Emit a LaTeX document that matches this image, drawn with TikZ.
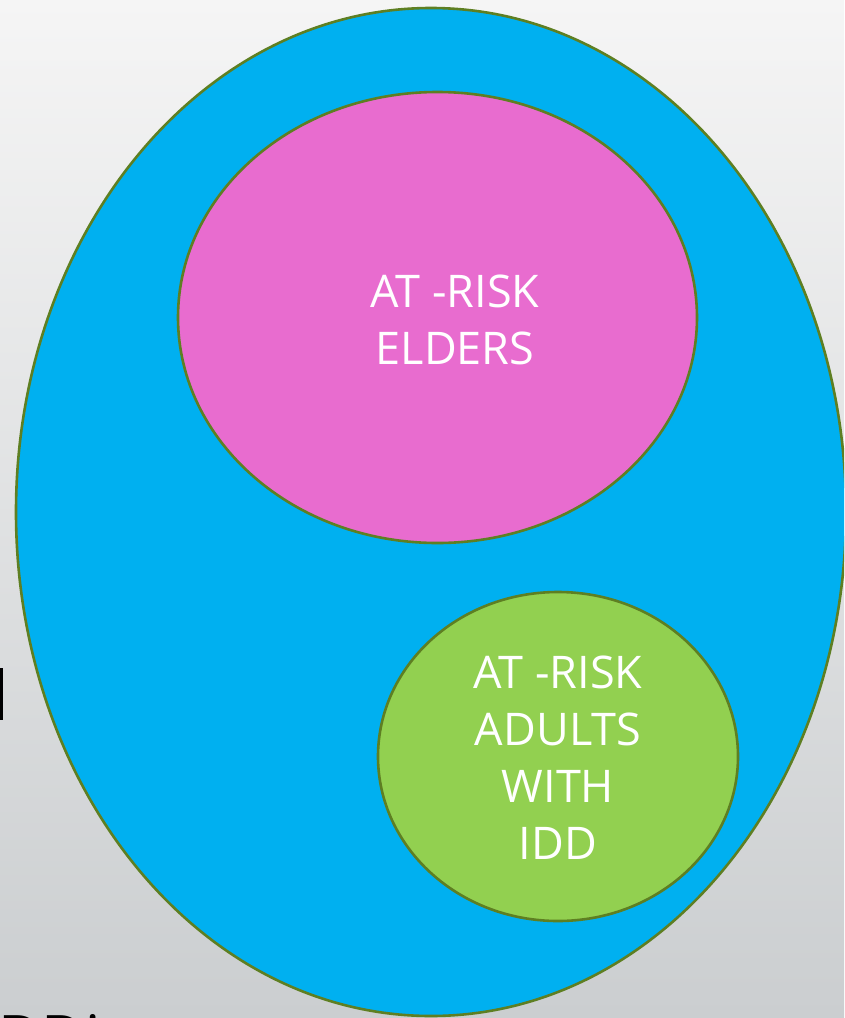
\documentclass[tikz,border=0pt]{standalone}
\usepackage{fontspec}
\setmainfont{Open Sans}
\definecolor{bgtop}{HTML}{F5F5F5}
\definecolor{bgbot}{HTML}{CBCED0}
\definecolor{outerfill}{HTML}{00B0F0}
\definecolor{pinkfill}{HTML}{E86CCF}
\definecolor{greenfill}{HTML}{92D050}
\definecolor{rimcol}{HTML}{5E7F22}
\tikzset{
  blob/.style={draw=rimcol, line width=2.6pt},
  lbl/.style={text=white, align=center, font=\fontsize{45}{57}\selectfont},
}
\begin{document}
\begin{tikzpicture}[x=1pt,y=-1pt]
\useasboundingbox (0,0) rectangle (844,1018);
\clip (0,0) rectangle (844,1018);
\shade[top color=bgtop, bottom color=bgbot] (0,0) rectangle (844,1018);
\fill[black] (0,668) rectangle (3,720);
\node[anchor=north west, inner sep=0pt, font=\fontsize{60}{60}\selectfont, text=black] (frag) at (-2,1014) {DDi};
\draw[blob, fill=outerfill] (431,512) ellipse [x radius=415, y radius=504];
\draw[blob, fill=pinkfill] (437.5,317.5) ellipse [x radius=259.5, y radius=225.5];
\draw[blob, fill=greenfill] (558,756.5) ellipse [x radius=180, y radius=164.5];
\node[lbl] (elders) at (455,320) {AT -RISK\\ELDERS};
\node[lbl] (idd) at (558,758) {AT -RISK\\ADULTS\\WITH\\IDD};
\end{tikzpicture}
\end{document}
